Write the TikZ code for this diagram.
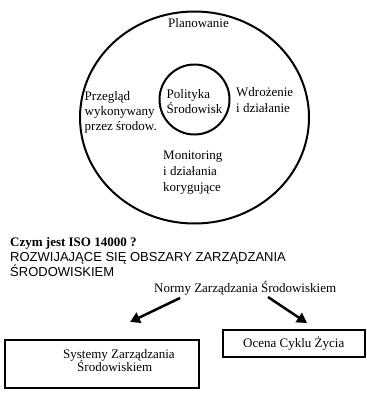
\documentclass[tikz,border=0pt]{standalone}
\usepackage{fontspec}
\setmainfont{Liberation Serif}
\newfontfamily\arialf{Liberation Sans}
\usetikzlibrary{arrows.meta}
\begin{document}
\begin{tikzpicture}[x=1pt,y=-1pt,
  txt/.style={anchor=base west,inner sep=0pt,font=\fontsize{13}{16}\selectfont},
  ring/.style={draw,line width=2pt},
  boxst/.style={draw,line width=1.8pt},
  arr/.style={line width=2.5pt,-{Triangle[length=10pt,width=11pt]}}]
\useasboundingbox (0,0) rectangle (367,394);
% circles
\draw[ring] (194.5,117.5) ellipse [x radius=114.5,y radius=106] node (outer) {};
\draw[ring] (194.5,99.5) circle [radius=35] node (inner) {};
% circle texts
\node[txt,anchor=base] (plan) at (198.5,27.5) {Planowanie};
\node[txt] (pol1) at (166.5,98) {Polityka};
\node[txt] (pol2) at (166.5,113) {Środowisk};
\node[txt] (wd1) at (236,96) {Wdrożenie};
\node[txt] (wd2) at (236,112) {i działanie};
\node[txt] (pr1) at (84.5,100) {Przegląd};
\node[txt] (pr2) at (84.5,115) {wykonywany};
\node[txt] (pr3) at (84.5,130) {przez środow.};
\node[txt] (mo1) at (163,159) {Monitoring};
\node[txt] (mo2) at (163,175) {i działania};
\node[txt] (mo3) at (163,191) {korygujące};
% lower texts
\node[txt,font=\fontsize{13}{16}\selectfont\bfseries] (czym) at (10,246.7) {Czym jest ISO 14000 ?};
\node[txt,font=\arialf\fontsize{13}{15}\selectfont] (rozw1) at (10,261.7) {ROZWIJAJĄCE SIĘ OBSZARY ZARZĄDZANIA};
\node[txt,font=\arialf\fontsize{13}{15}\selectfont] (rozw2) at (10,276) {ŚRODOWISKIEM};
\node[txt] (norm) at (154,292.7) {Normy Zarządzania Środowiskiem};
% boxes
\node[boxst,minimum width=194pt,minimum height=48pt,inner sep=0pt] (sys) at (102,364) {};
\node[txt] (sys1) at (63,358) {Systemy Zarządzania};
\node[txt] (sys2) at (77,371.7) {Środowiskiem};
\node[boxst,minimum width=142pt,minimum height=27pt,inner sep=0pt] (oc) at (294,343.5) {};
\node[txt] (oct) at (243,347) {Ocena Cyklu Życia};
% arrows
\coordinate (la) at (180,298);
\coordinate (lt) at (130,322);
\coordinate (ra) at (268,297);
\coordinate (rt) at (307,323);
\draw[arr] (la) -- (lt);
\draw[arr] (ra) -- (rt);
\end{tikzpicture}
\end{document}
